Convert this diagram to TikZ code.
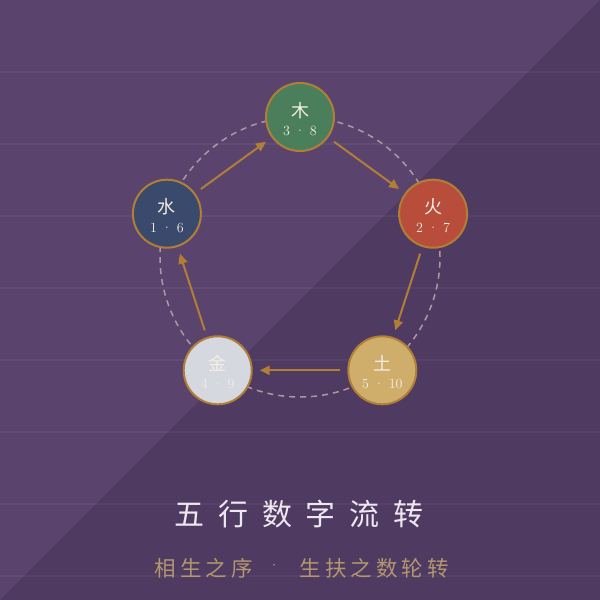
\documentclass[tikz,border=0pt]{standalone}
\usepackage{fontspec}
\newfontfamily\cjk{Noto Sans CJK SC}
\usetikzlibrary{arrows.meta}
\definecolor{bgA}{HTML}{5A446E}
\definecolor{bgB}{HTML}{4F3A62}
\definecolor{gold}{HTML}{B07F35}
\definecolor{ringC}{HTML}{AC98A4}
\definecolor{muC}{HTML}{4B7F5C}
\definecolor{huoC}{HTML}{B94D3B}
\definecolor{tuC}{HTML}{CFAE6B}
\definecolor{jinC}{HTML}{D5D8DF}
\definecolor{shuiC}{HTML}{3A4A6D}
\definecolor{inkC}{HTML}{F4EEE4}
\definecolor{titleC}{HTML}{EFE7EF}
\definecolor{subC}{HTML}{B3966F}
\newcommand{\wxnum}[2]{#1\hspace{10pt}\makebox[0pt]{·}\hspace{10pt}#2}
\begin{document}
\begin{tikzpicture}[x=1pt,y=-1pt,
  bgline/.style={white, opacity=0.045, line width=1.5pt},
  ring/.style={ringC, line width=1.5pt, dash pattern=on 6pt off 5pt},
  elem/.style={circle, draw=gold, line width=2pt, minimum size=68pt, inner sep=0pt},
  chr/.style={anchor=base, text=inkC, inner sep=0pt, font=\cjk\fontsize{18}{18}\selectfont},
  nums/.style={anchor=base, text=inkC, inner sep=0pt, font=\fontsize{14}{14}\selectfont},
  arr/.style={gold, line width=2pt, shorten >=7pt, shorten <=7pt, -{Triangle[length=10pt,width=9pt]}},
  titletext/.style={anchor=base, text=titleC, inner sep=0pt, font=\cjk\fontsize{30}{30}\selectfont},
  subtext/.style={anchor=base west, text=subC, inner sep=0pt, font=\cjk\fontsize{21.5}{21.5}\selectfont}]
\useasboundingbox (0,0) rectangle (600,600);
\fill[bgA] (0,0) rectangle (600,600);
\fill[bgB] (600,0) -- (600,600) -- (0,600) -- cycle;
\foreach \yy in {72,144,216,288,360,432,504,576}
  \draw[bgline] (0,\yy) -- (600,\yy);
\draw[ring] (300,257) circle[radius=140pt];
\node[elem, fill=muC]   (mu)   at (300,117) {};
\node[elem, fill=huoC]  (huo)  at (433.1,213.7) {};
\node[elem, fill=tuC]   (tu)   at (382.3,370.3) {};
\node[elem, fill=jinC]  (jin)  at (217.7,370.3) {};
\node[elem, fill=shuiC] (shui) at (166.9,213.7) {};
\node[chr] (mu-c)   at (mu.center)   {木};
\node[chr] (huo-c)  at (huo.center)  {火};
\node[chr] (tu-c)   at (tu.center)   {土};
\node[chr] (jin-c)  at (jin.center)  {金};
\node[chr] (shui-c) at (shui.center) {水};
\node[nums] (mu-n)   at ([yshift=-18.5pt]mu.center)   {\wxnum{3}{8}};
\node[nums] (huo-n)  at ([yshift=-18.5pt]huo.center)  {\wxnum{2}{7}};
\node[nums] (tu-n)   at ([yshift=-18.5pt]tu.center)   {\wxnum{5}{10}};
\node[nums] (jin-n)  at ([yshift=-18.5pt]jin.center)  {\wxnum{4}{9}};
\node[nums] (shui-n) at ([yshift=-18.5pt]shui.center) {\wxnum{1}{6}};
\draw[arr] (mu) -- (huo);
\draw[arr] (huo) -- (tu);
\draw[arr] (tu) -- (jin);
\draw[arr] (jin) -- (shui);
\draw[arr] (shui) -- (mu);
\node[titletext] (title) at (299,525) {五\hspace{13.7pt}行\hspace{13.7pt}数\hspace{13.7pt}字\hspace{13.7pt}流\hspace{13.7pt}转};
\node[subtext] (sub) at (154.5,576) {相\hspace{4pt}生\hspace{4pt}之\hspace{4pt}序\hspace{21.5pt}\raisebox{4pt}{\makebox[0pt]{\normalfont\fontsize{21}{21}\selectfont ·}}\hspace{25.5pt}生\hspace{4pt}扶\hspace{4pt}之\hspace{4pt}数\hspace{4pt}轮\hspace{4pt}转};
\end{tikzpicture}
\end{document}
